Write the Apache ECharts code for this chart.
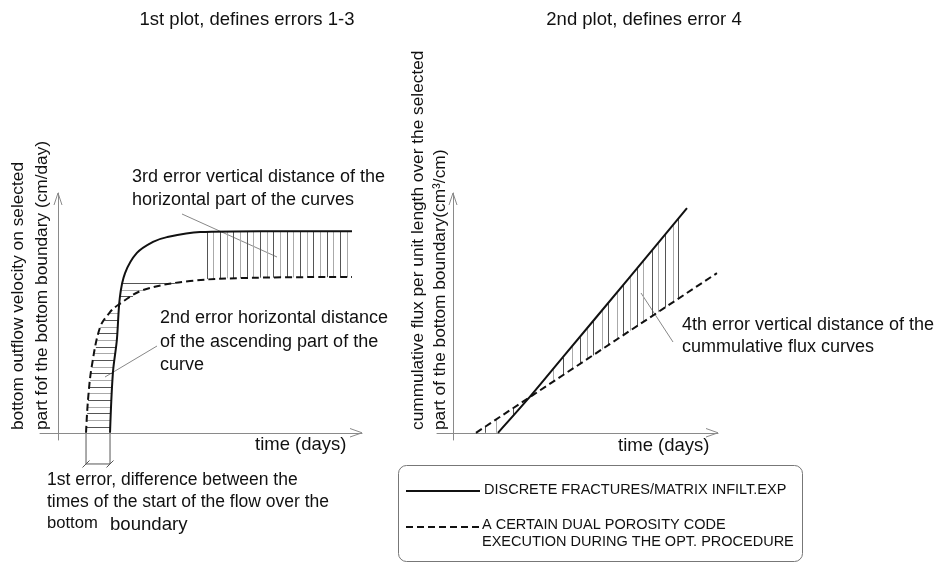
<!DOCTYPE html>
<html>
<head>
<meta charset="utf-8">
<title>errors 1-4</title>
<script src="https://cdn.jsdelivr.net/npm/echarts@6/dist/echarts.min.js"></script>
<style>
  html, body { margin: 0; padding: 0; background: #fff; }
  #main { width: 943px; height: 563px; }
</style>
</head>
<body>
<div id="main"></div>
<script>

// 1st plot: outflow velocity vs time
const velSolid = [[17.05, 0], [18.0, 25.0], [19.3, 38.7], [20.3, 56.6], [22.0, 66.6], [25.9, 75.0],
  [31.2, 79.6], [35.8, 81.6], [46.7, 83.7], [66.4, 84.1], [96.7, 84.1]];
const velDashed = [[9.15, 0], [9.8, 13.7], [11.0, 27.4], [13.8, 44.1], [17.1, 50.4], [19.7, 53.3],
  [27.9, 59.5], [43.4, 63.3], [63.1, 64.6], [96.7, 65.0]];

// 3rd error hatch (vertical)
const err3X = [49.0, 50.9, 53.3, 55.6, 57.5, 59.9, 62.1, 64.1, 66.4, 68.7, 70.7, 73.0, 75.3, 77.3,
  79.6, 81.9, 83.9, 86.2, 88.5, 90.4, 92.8, 95.0];
const err3Lo = [64.1, 64.2, 64.3, 64.4, 64.5, 64.5, 64.6, 64.6, 64.7, 64.7, 64.7, 64.8, 64.8, 64.8,
  64.8, 64.9, 64.9, 64.9, 64.9, 65.0, 65.0, 65.0];
const err3Hi = [83.8, 83.9, 83.9, 84.0, 84.0, 84.0, 84.1, 84.1, 84.1, 84.1, 84.1, 84.1, 84.1, 84.1,
  84.1, 84.1, 84.1, 84.1, 84.1, 84.1, 84.1, 84.1];

// 2nd error hatch (horizontal)
const err2Y = [2.4, 5.3, 8.3, 10.8, 13.7, 16.6, 19.1, 22.0, 24.9, 27.4, 30.3, 33.3, 35.8, 38.7,
  41.6, 44.1, 47.0, 49.9, 57.0, 59.5, 62.4];
const err2From = [9.26, 9.4, 9.54, 9.67, 9.8, 10.05, 10.27, 10.53, 10.78, 11.0, 11.49, 11.99, 12.4, 12.9,
  13.4, 13.8, 15.3, 16.8, 20.35, 20.8, 21.3];
const err2To = [17.14, 17.25, 17.37, 17.46, 17.57, 17.68, 17.78, 17.89, 18.0, 18.23, 18.5, 18.79, 19.02, 19.3,
  19.46, 19.6, 19.76, 19.93, 24.6, 27.9, 38.4];

// 1st error: start times of the flow, and how far below the axis the marks go
const startTimes = [9.15, 17.05];
const dimDepth = -13;

// 2nd plot: cumulative flux vs time
const fluxSolid = [[17.0, 0], [28.0, 13.7], [41.5, 31.6], [66.8, 65.0], [88.3, 93.7]];
const fluxDashed = [[8.7, 0], [99.6, 66.6]];

// 4th error hatch (vertical)
const err4X = [12.1, 16.3, 22.7, 37.8, 41.5, 44.9, 47.9, 50.6, 52.8, 56.2, 58.5, 61.9, 64.2, 66.8,
  69.5, 71.7, 75.1, 77.4, 80.0, 83.0, 84.9];
const err4Lo = [0, 0, 7.1, 21.3, 24.0, 26.5, 28.7, 30.7, 32.3, 34.8, 36.5, 39.0, 40.7, 42.6,
  44.5, 46.2, 48.7, 50.3, 52.2, 54.4, 55.8];
const err4Hi = [2.5, 5.6, 10.3, 26.3, 31.3, 35.8, 39.8, 43.4, 46.3, 50.8, 53.9, 58.4, 61.5, 64.9,
  68.6, 71.5, 76.1, 79.1, 82.6, 86.6, 89.2];

const solidName = 'DISCRETE FRACTURES/MATRIX INFILT.EXP';
const dashedName = 'A CERTAIN DUAL POROSITY CODE';
const dashedName2 = 'EXECUTION DURING THE OPT. PROCEDURE';

const FONT = '"Liberation Sans", Arial, Helvetica, sans-serif';
const INK = '#111';
const AXIS = '#8a8a8a';

function hatch(xs, a, b, vertical) {
  return xs.map(function (v, i) {
    let c = vertical ? [[v, a[i]], [v, b[i]]] : [[a[i], v], [b[i], v]];
    return { coords: c, lineStyle: { color: i % 2 ? '#aaa' : '#555' } };
  });
}

function xAx(idx) {
  return {
    type: 'value', gridIndex: idx, min: -6, max: 100,
    axisLine: { onZero: true, lineStyle: { color: AXIS, width: 1 } },
    axisTick: { show: false }, axisLabel: { show: false }, splitLine: { show: false }
  };
}
function yAx(idx) {
  return {
    type: 'value', gridIndex: idx, min: -3, max: 100,
    axisLine: { onZero: true, lineStyle: { color: AXIS, width: 1 } },
    axisTick: { show: false }, axisLabel: { show: false }, splitLine: { show: false }
  };
}

function txt(x, y, s, size, extra, align) {
  let o = {
    type: 'text', x: x, y: y, silent: true,
    style: { text: s, font: (size || 18) + 'px ' + FONT, fill: INK, textAlign: align || 'left', textVerticalAlign: 'middle' }
  };
  return Object.assign(o, extra || {});
}
function seg(pts, color, w, dash) {
  return {
    type: 'polyline', silent: true,
    shape: { points: pts },
    style: { stroke: color || INK, lineWidth: w || 1, fill: null, lineDash: dash || null }
  };
}

const chart = echarts.init(document.getElementById('main'), null, { renderer: 'canvas' });

const option = {
  backgroundColor: '#fff',
  animation: false,
  grid: [
    { left: 40, top: 193, width: 322, height: 247 },
    { left: 437, top: 193, width: 281, height: 247 }
  ],
  xAxis: [xAx(0), xAx(1)],
  yAxis: [yAx(0), yAx(1)],
  series: [
    // hatching first so the curves sit on top
    { type: 'lines', coordinateSystem: 'cartesian2d', xAxisIndex: 0, yAxisIndex: 0, silent: true,
      lineStyle: { width: 1, opacity: 1 }, data: hatch(err3X, err3Lo, err3Hi, true) },
    { type: 'lines', coordinateSystem: 'cartesian2d', xAxisIndex: 0, yAxisIndex: 0, silent: true,
      lineStyle: { width: 1, opacity: 1 }, data: hatch(err2Y, err2From, err2To, false) },
    { type: 'lines', coordinateSystem: 'cartesian2d', xAxisIndex: 1, yAxisIndex: 1, silent: true,
      lineStyle: { width: 1, opacity: 1 }, data: hatch(err4X, err4Lo, err4Hi, true) },

    { name: solidName, type: 'line', xAxisIndex: 0, yAxisIndex: 0, data: velSolid,
      showSymbol: false, smooth: 0.35, lineStyle: { color: INK, width: 2 } },
    { name: dashedName, type: 'line', xAxisIndex: 0, yAxisIndex: 0, data: velDashed,
      showSymbol: false, smooth: 0.35, lineStyle: { color: INK, width: 2, type: [7, 4] } },
    { name: solidName, type: 'line', xAxisIndex: 1, yAxisIndex: 1, data: fluxSolid,
      showSymbol: false, smooth: 0.3, lineStyle: { color: INK, width: 2 } },
    { name: dashedName, type: 'line', xAxisIndex: 1, yAxisIndex: 1, data: fluxDashed,
      showSymbol: false, lineStyle: { color: INK, width: 2, type: [7, 4] } }
  ]
};

chart.setOption(option);

// the 1st error marks sit below the axis (outside the grid), so place them from the axis scale
const p0 = chart.convertToPixel({ gridIndex: 0 }, [startTimes[0], 0]);
const p1 = chart.convertToPixel({ gridIndex: 0 }, [startTimes[1], 0]);
const pd = chart.convertToPixel({ gridIndex: 0 }, [startTimes[0], dimDepth]);
const dy = pd[1];

const graphics = [
  // axis arrow heads (open)
  seg([[350, 428.5], [362, 432.8], [350, 437]], AXIS),
  seg([[54, 205], [58, 193], [62, 205]], AXIS),
  seg([[706, 428.5], [718, 432.8], [706, 437]], AXIS),
  seg([[449, 205], [453, 193], [457, 205]], AXIS),

  // 1st error dimension
  seg([[p0[0], p0[1]], [p0[0], dy]], '#555'),
  seg([[p1[0], p1[1]], [p1[0], dy]], '#555'),
  seg([[p0[0], dy], [p1[0], dy]], '#555'),
  seg([[p0[0] - 3.5, dy + 3.5], [p0[0] + 3.5, dy - 3.5]], '#555'),
  seg([[p1[0] - 3.5, dy + 3.5], [p1[0] + 3.5, dy - 3.5]], '#555'),

  // titles
  txt(247, 20, '1st plot, defines errors 1-3', 18.5, null, 'center'),
  txt(644, 20, '2nd plot, defines error 4', 18.5, null, 'center'),

  // y axis names
  txt(18, 430, 'bottom outflow velocity on selected', 17.3, { rotation: Math.PI / 2 }),
  txt(42, 430, 'part fof the bottom boundary (cm/day)', 17.3, { rotation: Math.PI / 2 }),
  txt(418, 430, 'cummulative flux per unit length over the selected', 17.3, { rotation: Math.PI / 2 }),
  txt(440, 430, 'part of the bottom boundary(cm³/cm)', 17.3, { rotation: Math.PI / 2 }),

  // x axis names
  txt(255, 445, 'time (days)', 18.5),
  txt(618, 446, 'time (days)', 18.5),

  // annotations + leaders
  txt(132, 177, '3rd error vertical distance of the', 18),
  txt(132, 200, 'horizontal part of the curves', 18),
  seg([[182, 214], [277, 257]], '#888'),
  txt(160, 318, '2nd error horizontal distance', 18),
  txt(160, 342, 'of the ascending part of the', 18),
  txt(160, 365, 'curve', 18),
  seg([[157, 346], [105, 377]], '#888'),
  txt(682, 325, '4th error vertical distance of the', 18),
  txt(682, 347, 'cummulative flux curves', 18),
  seg([[641, 293], [673, 342]], '#888'),
  txt(47, 480, '1st error, difference between the', 17.5),
  txt(47, 502, 'times of the start of the flow over the', 17.5),
  txt(47, 523, 'bottom', 16.6),
  txt(110, 525, 'boundary', 18.6),

  // legend box
  { type: 'rect', silent: true, shape: { x: 398.5, y: 465.5, width: 404, height: 96, r: 8 },
    style: { fill: null, stroke: '#777', lineWidth: 1 } },
  seg([[406, 491], [480, 491]], INK, 2),
  txt(484, 490, solidName, 14.5),
  seg([[406, 527], [480, 527]], INK, 2, [7, 4]),
  txt(482, 525, dashedName, 14.5),
  txt(482, 542, dashedName2, 14.5)
];

chart.setOption({ graphic: graphics });
</script>
</body>
</html>
